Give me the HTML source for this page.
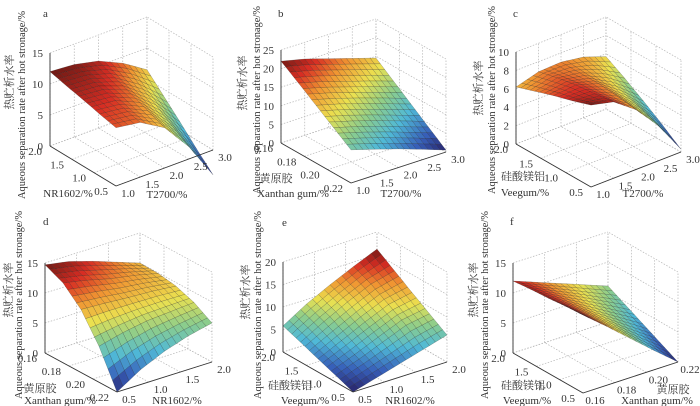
<!DOCTYPE html>
<html><head><meta charset="utf-8">
<style>
html,body{margin:0;padding:0;background:#fff;}
svg{display:block;font-family:"Liberation Serif","Noto Serif CJK SC","Noto Sans CJK SC",serif;}
</style></head>
<body>
<svg id="fig" width="700" height="406" viewBox="0 0 700 406"></svg>
<script>
// ---- data (5x5 grids: rows = v from front to left-corner, cols = u from front to right-corner)
const zA = [[9.4,8.8,6.5,2.0,-4.0],[10.0,9.5,7.6,3.7,-1.4],[10.7,10.3,8.7,5.5,1.3],[11.3,11.0,9.7,7.2,3.9],[12.0,11.7,10.8,9.0,6.5]];
const zB = [[8.9,7.0,5.0,2.8,0.5],[12.2,10.4,8.4,6.2,4.0],[15.5,13.8,11.8,9.7,7.5],[18.8,17.1,15.1,13.1,11.0],[22.0,20.5,18.5,16.5,14.5]];
const zC = [[8.9,8.3,6.5,3.8,0.3],[8.2,8.0,6.8,4.6,1.8],[7.6,7.8,7.0,5.3,3.2],[6.9,7.4,7.0,6.0,4.5],[6.2,6.9,7.0,6.6,5.7]];
const zD = [[0,2.5,4.3,5.6,6.5],[6.0,7.0,7.7,8.0,8.3],[10.5,10.3,10.0,9.8,9.4],[13.3,12.5,11.5,10.8,9.9],[14.7,14.0,12.8,11.4,10.0]];
const zE = [[0,1.5,3.0,4.5,6.0],[1.5,3.4,5.5,7.6,8.5],[2.9,5.3,7.8,10.0,11.0],[4.4,7.3,10.0,12.3,13.6],[5.8,9.0,11.6,14.0,16.2]];
const zF = [[13.0,9.8,6.5,3.2,0],[12.8,10.0,7.2,4.3,1.5],[12.5,10.2,7.8,5.4,3.0],[12.3,10.4,8.5,6.5,4.5],[12.0,10.5,9.0,7.5,6.0]];
const zTicksA = ["0","5","10","15"];
const zTicksB = ["0","5","10","15","20","25"];
const zTicksC = ["0","2","4","6","8","10"];
const zTicksE = ["0","5","10","15","20"];
const tTicks = ["1.0","1.5","2.0","2.5","3.0"];
const nrTicks = ["0.5","1.0","1.5","2.0"];
const xgTicks = ["0.22","0.20","0.18","0.16"];
const xgTicksU = ["0.16","0.18","0.20","0.22"];
const vgTicks = ["0.5","1.0","1.5","2.0"];

const panels = [
 {id:"a",grid:zA,F:[116,186],L:[50,146],R:[213,150],s:6.2,zt:zTicksA,ut:tTicks,vt:nrTicks,lab:[43,17],
  cn:[9,82],en:[21,105],uT:[["T2700/%",167,198]],vT:[["NR1602/%",68,197]]},
 {id:"b",grid:zB,F:[351,183],L:[281,143],R:[446,152],s:3.72,zt:zTicksB,ut:tTicks,vt:xgTicks,lab:[278,17],
  cn:[242,83],en:[256,100],uT:[["T2700/%",401,197]],vT:[["黄原胶",276,182],["Xanthan gum/%",293,197]]},
 {id:"c",grid:zC,F:[591,187],L:[516,144],R:[681,152],s:9.2,zt:zTicksC,ut:tTicks,vt:vgTicks,lab:[513,17],
  cn:[478,88],en:[491,100],uT:[["T2700/%",643,197]],vT:[["硅酸镁铝",523,180],["Veegum/%",525,196]]},
 {id:"d",grid:zD,F:[117,392],L:[45,353],R:[212,362],s:6.0,zt:zTicksA,ut:nrTicks,vt:xgTicks,lab:[43,225],
  cn:[8,290],en:[18,305],uT:[["NR1602/%",177,404]],vT:[["黄原胶",40,392],["Xanthan gum/%",60,404]]},
 {id:"e",grid:zE,F:[353,392],L:[283,352],R:[447,362],s:4.5,zt:zTicksE,ut:nrTicks,vt:vgTicks,lab:[282,226],
  cn:[245,292],en:[257,305],uT:[["NR1602/%",410,404]],vT:[["硅酸镁铝",290,389],["Veegum/%",305,404]]},
 {id:"f",grid:zF,F:[583,393],L:[513,353],R:[678,362],s:6.0,zt:zTicksA,ut:xgTicksU,vt:vgTicks,lab:[510,225],
  cn:[473,290],en:[484,305],uT:[["黄原胶",673,393],["Xanthan gum/%",657,404]],vT:[["硅酸镁铝",523,389],["Veegum/%",527,404]]}
];

const NS="http://www.w3.org/2000/svg";
const svg=document.getElementById('fig');
function mk(tag,attrs,parent){const e=document.createElementNS(NS,tag);for(const k in attrs)e.setAttribute(k,attrs[k]);(parent||svg).appendChild(e);return e;}
// muted jet-like colormap
const cmapStops=[[0,[40,35,105]],[0.14,[55,95,185]],[0.3,[80,185,215]],[0.45,[140,205,140]],[0.6,[235,225,80]],[0.75,[240,150,50]],[0.88,[215,45,35]],[1,[110,25,20]]];
function jet(t){t=Math.max(0,Math.min(1,t));for(let i=1;i<cmapStops.length;i++){if(t<=cmapStops[i][0]){const [t0,c0]=cmapStops[i-1],[t1,c1]=cmapStops[i];const f=(t-t0)/(t1-t0);
 return `rgb(${c0.map((c,k)=>Math.round(c+(c1[k]-c)*f)).join(',')})`;}}return 'rgb(110,25,20)';}

panels.forEach(p=>{
 const g=mk('g',{});
 
 
 const [Fx,Fy]=p.F,[Lx,Ly]=p.L,[Rx,Ry]=p.R;
 const zmax=parseFloat(p.zt[p.zt.length-1]);
 const pr=(u,v,z)=>[Fx+u*(Rx-Fx)+v*(Lx-Fx), Fy+u*(Ry-Fy)+v*(Ly-Fy)-z*p.s];
 const line=(a,b,st,name)=>{const l=mk('line',{x1:a[0],y1:a[1],x2:b[0],y2:b[1],stroke:st.c,'stroke-width':st.w,'stroke-dasharray':st.d||'none'},g);
   return l;};
 const grid={c:'#b5b5b5',w:0.7,d:'1.5 1.5'};
 const nu=p.ut.length-1,nv=p.vt.length-1;
 p.zt.forEach(zs=>{const z=parseFloat(zs);
   line(pr(0,1,z),pr(1,1,z),grid,'gridline-z');line(pr(1,0,z),pr(1,1,z),grid,'gridline-z');});
 for(let i=0;i<=nu;i++){const u=i/nu;line(pr(u,1,0),pr(u,1,zmax),grid,'gridline-u');line(pr(u,0,0),pr(u,1,0),grid,'gridline-u');}
 for(let j=0;j<=nv;j++){const v=j/nv;line(pr(1,v,0),pr(1,v,zmax),grid,'gridline-v');line(pr(0,v,0),pr(1,v,0),grid,'gridline-v');}
 const G=p.grid,n=G.length-1;
 let mn=Infinity,mx=-Infinity;G.forEach(r=>r.forEach(z=>{mn=Math.min(mn,z);mx=Math.max(mx,z);}));
 const S=4,N=n*S;
 const zAt=(a,b)=>{const i=Math.min(Math.floor(a),n-1),j=Math.min(Math.floor(b),n-1),fa=a-i,fb=b-j;
   return G[j][i]*(1-fa)*(1-fb)+G[j][i+1]*fa*(1-fb)+G[j+1][i]*(1-fa)*fb+G[j+1][i+1]*fa*fb;};
 const cells=[];
 for(let a=0;a<N;a++)for(let b=0;b<N;b++)cells.push([a,b]);
 cells.sort((c1,c2)=>(c2[0]+c2[1])-(c1[0]+c1[1]));
 const sg=mk('g',{},g);
 
 
 cells.forEach(([a,b])=>{
   const pts=[[a,b],[a+1,b],[a+1,b+1],[a,b+1]].map(([x,y])=>{const z=zAt(x/S,y/S);return [pr(x/N,y/N,z),z];});
   const zm=pts.reduce((s,q)=>s+q[1],0)/4;
   const poly=mk('polygon',{points:pts.map(q=>q[0].map(v=>v.toFixed(1)).join(',')).join(' '),fill:jet((zm-mn)/(mx-mn)),stroke:'rgba(20,20,20,0.5)','stroke-width':0.35},sg);
   
   
 });
 const ax={c:'#333',w:0.9};
 line(pr(0,0,0),pr(1,0,0),ax,'x-axis-line');line(pr(0,0,0),pr(0,1,0),ax,'y-axis-line');line(pr(0,1,0),pr(0,1,zmax),ax,'z-axis-line');
 const txt=(s,x,y,anc,name,extra)=>{const t=mk('text',Object.assign({x:x,y:y,'font-size':11,'text-anchor':anc,fill:'#333'},extra||{}),g);t.textContent=s;
   return t;};
 p.zt.forEach(zs=>{const q=pr(0,1,parseFloat(zs));txt(zs,q[0]-7,q[1]+4,'end','z-tick-label');});
 p.ut.forEach((s,i)=>{const q=pr(i/nu,0,0);txt(s,q[0]+12,q[1]+11,'middle','x-tick-label');});
 p.vt.forEach((s,j)=>{const q=pr(0,j/nv,0);txt(s,q[0]-8,q[1]+9,'end','y-tick-label');});
 p.uT.forEach(t=>txt(t[0],t[1],t[2],'middle','x-axis-title'));
 p.vT.forEach(t=>txt(t[0],t[1],t[2],'middle','y-axis-title'));
 txt('热贮析水率',p.cn[0],p.cn[1],'middle','z-axis-title-cn',{transform:`rotate(-90 ${p.cn[0]} ${p.cn[1]})`,dy:4,'font-size':11});
 txt('Aqueous separation rate after hot stronage/%',p.en[0],p.en[1],'middle','z-axis-title',{transform:`rotate(-90 ${p.en[0]} ${p.en[1]})`,dy:4,'font-size':10,textLength:188,lengthAdjust:'spacingAndGlyphs'});
 txt(p.id,p.lab[0],p.lab[1],'start','panel-label');
});
</script>
</body></html>
